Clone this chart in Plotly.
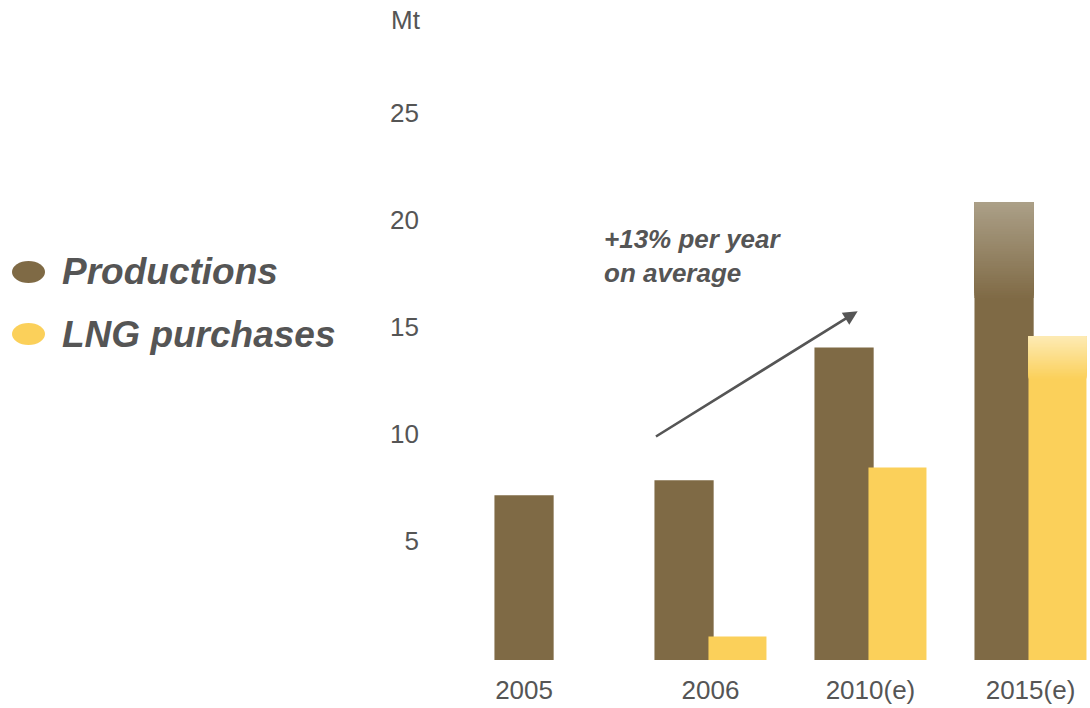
import plotly.graph_objects as go

# ---- data -------------------------------------------------------------
years = ["2005", "2006", "2010(e)", "2015(e)"]
productions = [7.7, 8.4, 14.6, 21.4]
lng_purchases = [None, 1.1, 9.0, 15.1]
faded_top = [False, False, False, True]      # long-range estimate drawn with a fading top
y_ticks = [5, 10, 15, 20, 25]

# ---- style ------------------------------------------------------------
FONT = "Liberation Sans, Arial, sans-serif"
TEXT = "#555555"
PROD_DARK, PROD_LIGHT = (127, 106, 69), (171, 159, 135)
LNG_DARK, LNG_LIGHT = (251, 208, 90), (253, 234, 178)
PROD_OFFSET, PROD_WIDTH = -0.35, 0.37
LNG_OFFSET, LNG_WIDTH = -0.0125, 0.3625
FADE = {"prod": 4.6, "lng": 2.0}
N_SLICES = 40

x = list(range(len(years)))


def rgb(c):
    return "rgb(%d,%d,%d)" % c


def mix(a, b, t):
    return tuple(round(a[i] + (b[i] - a[i]) * t) for i in range(3))


fig = go.Figure()


def add_series(values, key, offset, width, dark, light):
    fade = FADE[key]
    fig.add_trace(go.Bar(x=x, y=values, offset=offset, width=width,
                         marker=dict(color=rgb(dark), line=dict(width=0)),
                         showlegend=False, hoverinfo="skip"))
    # fading top: each slice runs up to the bar's value, drawn over the one below
    step = fade / N_SLICES
    for k in range(1, N_SLICES):
        t = k / (N_SLICES - 1)
        ys, bs = [], []
        for v, f in zip(values, faded_top):
            if v is not None and f:
                ys.append(fade - k * step)
                bs.append(v - fade + k * step)
            else:
                ys.append(None)
                bs.append(0)
        fig.add_trace(go.Bar(x=x, y=ys, base=bs, offset=offset, width=width,
                             marker=dict(color=rgb(mix(dark, light, t)), line=dict(width=0)),
                             showlegend=False, hoverinfo="skip"))


add_series(productions, "prod", PROD_OFFSET, PROD_WIDTH, PROD_DARK, PROD_LIGHT)
add_series(lng_purchases, "lng", LNG_OFFSET, LNG_WIDTH, LNG_DARK, LNG_LIGHT)

# category labels sit under the bars that exist for each year
tick_pos = []
for i, l in enumerate(lng_purchases):
    left = i + PROD_OFFSET
    right = i + (LNG_OFFSET + LNG_WIDTH if l is not None else PROD_OFFSET + PROD_WIDTH)
    tick_pos.append((left + right) / 2)

# growth arrow from 2006 production towards 2010 production
g0, g1 = 1, 2
fig.add_annotation(x=g1 - 0.08, y=productions[g1] + 1.7, ax=g0 - 0.35, ay=productions[g0] + 2.0,
                   xref="x", yref="y", axref="x", ayref="y", text="", showarrow=True,
                   arrowhead=2, arrowsize=1.1, arrowwidth=2.6, arrowcolor=TEXT)
fig.add_annotation(x=g0 - 0.675, y=productions[g1] + 4.3, xref="x", yref="y",
                   text="<b><i>+13% per year<br>on average</i></b>", showarrow=False,
                   xanchor="left", yanchor="middle", align="left",
                   font=dict(family=FONT, size=26, color=TEXT))

# unit label
fig.add_annotation(x=406, y=20, xref="paper", yref="paper", text="Mt", showarrow=False,
                   xanchor="center", yanchor="middle",
                   font=dict(family=FONT, size=26, color=TEXT))

# legend drawn as ellipses with bold italic labels
legend = [("Productions", PROD_DARK, 272), ("LNG purchases", LNG_DARK, 334)]
for name, col, yc in legend:
    fig.add_shape(type="circle", xref="paper", yref="paper",
                  x0=12, x1=45, y0=yc - 11, y1=yc + 11,
                  fillcolor=rgb(col), line=dict(width=0))
    fig.add_annotation(x=60, y=yc, xref="paper", yref="paper",
                       text="<b><i>%s</i></b>" % name, showarrow=False,
                       xanchor="left", yanchor="middle",
                       font=dict(family=FONT, size=37, color=TEXT))

W, H = 1090, 708
L, R, T, B = 425, 0, 18, 48
fig.update_layout(
    width=W, height=H, barmode="overlay",
    margin=dict(l=L, r=R, t=T, b=B),
    paper_bgcolor="white", plot_bgcolor="white",
    font=dict(family=FONT, color=TEXT, size=26),
    xaxis=dict(range=[-0.784, 3.372], tickvals=tick_pos, ticktext=years,
               showgrid=False, zeroline=False, showline=False, ticks="",
               ticklabelstandoff=12, tickfont=dict(size=26, color=TEXT)),
    yaxis=dict(range=[0, 30], tickvals=y_ticks, showgrid=False, zeroline=False,
               showline=False, ticks="", ticklabelshift=-12, ticklabelstandoff=5,
               tickfont=dict(size=26, color=TEXT)),
)

# paper-referenced decorations given in pixels -> convert to paper fractions
pw, ph = W - L - R, H - T - B
for a in fig.layout.annotations:
    if a.xref == "paper":
        a.x = (a.x - L) / pw
        a.y = 1 - (a.y - T) / ph
for s in fig.layout.shapes:
    s.x0, s.x1 = (s.x0 - L) / pw, (s.x1 - L) / pw
    s.y0, s.y1 = 1 - (s.y0 - T) / ph, 1 - (s.y1 - T) / ph

fig.write_html("out.html")
